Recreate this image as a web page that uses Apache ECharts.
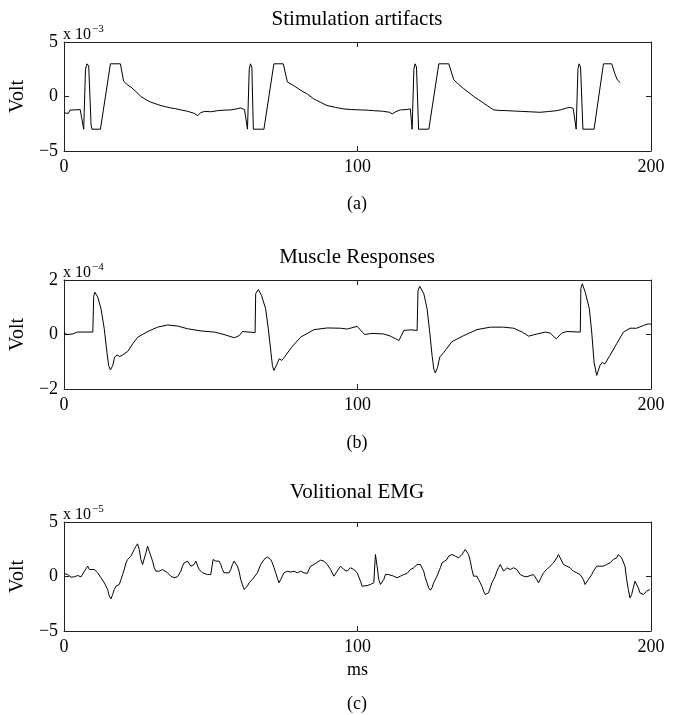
<!DOCTYPE html>
<html>
<head>
<meta charset="utf-8">
<script src="https://cdn.jsdelivr.net/npm/echarts@6/dist/echarts.min.js"></script>
<style>
html,body{margin:0;padding:0;background:#fff;}
#chart{width:674px;height:715px;}
</style>
</head>
<body>
<div id="chart"></div>
<script>
// ---------- Data (time in ms, values in axis units) ----------
const panelTitles = ['Stimulation artifacts', 'Muscle Responses', 'Volitional EMG'];
const panelLetters = ['(a)', '(b)', '(c)'];
const scaleExp = ['−3', '−4', '−5'];
const xTicks = [0, 100, 200];
const yLimits = [5, 2, 5];

// (a) Stimulation artifacts, x 10^-3 V
const tA = [0, 1.5, 2.0, 5.5, 6.0, 6.7, 7.3, 7.8, 8.4, 9.2, 9.5, 12.4, 15.8, 19.2, 20.3, 21.5, 22.8, 24.5, 26.2, 28.0, 29.6, 31.5, 33, 34.8, 36.4, 38.0, 39.8, 42.0, 44.3, 45.5, 46.5, 47.8, 50.0, 52.3, 54.5, 56.8, 58.5, 60.2, 61.5, 62.5, 63.1, 63.5, 64.0, 64.5, 68.1, 71.5, 74.7, 76.1, 78.5, 80.7, 83.0, 85.1, 87.5, 89.6, 92.5, 95.3, 98.0, 101, 103.2, 105.4, 108.5, 111.0, 111.8, 113.0, 114.6, 116.5, 118.0, 118.6, 119.2, 119.6, 120.1, 120.8, 124.3, 127.7, 131.1, 132.8, 134.5, 136.2, 138.0, 139.6, 141.3, 143, 144.8, 146.4, 148.5, 150.9, 153.0, 155.4, 158.5, 162.2, 165.0, 167.9, 169.5, 171.3, 172.5, 173.5, 174.5, 175.1, 175.5, 176.0, 176.8, 180.6, 183.8, 186.6, 187.8, 188.6, 189.5];
const vA = [-1.5, -1.55, -1.25, -1.2, -1.35, -3.0, 2.5, 3.0, 2.8, -2.6, -3.0, -3.0, 3.0, 3.0, 1.4, 1.1, 0.86, 0.45, 0.0, -0.3, -0.52, -0.7, -0.83, -0.95, -1.05, -1.12, -1.23, -1.35, -1.54, -1.76, -1.5, -1.36, -1.4, -1.3, -1.25, -1.23, -1.15, -1.05, -1.2, -3.0, 2.5, 3.0, 2.7, -3.0, -3.0, 3.0, 3.0, 1.33, 0.95, 0.56, 0.2, -0.22, -0.55, -0.83, -1.0, -1.14, -1.2, -1.23, -1.25, -1.3, -1.35, -1.45, -1.6, -1.4, -1.23, -1.2, -1.14, -3.0, 2.5, 3.0, 2.7, -3.0, -3.0, 3.0, 3.0, 1.54, 1.1, 0.71, 0.35, 0.0, -0.3, -0.62, -0.95, -1.23, -1.28, -1.3, -1.33, -1.36, -1.4, -1.45, -1.38, -1.3, -1.2, -1.05, -1.0, -1.1, -3.0, 2.5, 3.0, 2.7, -3.0, -3.0, 3.0, 3.0, 2.0, 1.5, 1.3];

// (b) Muscle responses, x 10^-4 V
const tB = [0, 1, 3, 4.5, 9.8, 10.1, 10.5, 11.5, 12.6, 13.7, 14.6, 15.2, 15.8, 16.6, 17.2, 18.1, 18.9, 20.0, 21.7, 23.4, 25.1, 28.5, 31.9, 35.3, 38.7, 42.1, 46.7, 51.2, 54.5, 58, 59.7, 60.8, 61.4, 65.1, 65.3, 66.2, 67.3, 68.7, 69.6, 70.5, 71.0, 71.5, 72.5, 73.3, 74.2, 75.3, 77.6, 80.6, 85.2, 89.7, 94.2, 96.5, 99.9, 101.6, 102.5, 104.9, 108.9, 111.2, 114.1, 115.8, 118.0, 120.3, 120.6, 121.2, 122.6, 123.7, 124.6, 125.4, 126.0, 126.5, 127.3, 128.0, 129.3, 132.2, 136.2, 140.7, 145.3, 149.8, 153.2, 156.1, 158.3, 161.2, 164.0, 165.7, 167.7, 169.6, 171.3, 175.9, 176.1, 176.6, 177.6, 179.0, 179.8, 180.6, 181.5, 182.6, 183.4, 184.3, 186.0, 188.3, 190.6, 192.9, 195.1, 197.4, 199.1, 200];
const vB = [0.05, 0.0, 0.02, 0.09, 0.09, 1.4, 1.55, 1.37, 0.94, 0.21, -0.65, -1.14, -1.3, -1.14, -0.83, -0.75, -0.81, -0.75, -0.62, -0.34, -0.1, 0.11, 0.27, 0.35, 0.31, 0.21, 0.13, 0.09, 0.0, -0.12, -0.04, 0.11, 0.07, 0.07, 1.5, 1.65, 1.43, 0.94, 0.21, -0.65, -1.14, -1.32, -1.1, -0.89, -0.95, -0.8, -0.46, -0.1, 0.18, 0.24, 0.23, 0.2, 0.3, 0.09, 0.0, 0.04, 0.02, -0.06, -0.22, 0.15, 0.17, 0.15, 1.6, 1.77, 1.49, 0.94, 0.09, -0.77, -1.28, -1.41, -1.2, -0.83, -0.67, -0.26, -0.04, 0.18, 0.27, 0.27, 0.23, 0.09, -0.06, 0.02, 0.09, 0.05, -0.16, 0.05, 0.11, 0.09, 1.7, 1.86, 1.55, 0.94, 0.09, -1.02, -1.5, -1.14, -1.02, -1.08, -0.77, -0.34, 0.09, 0.23, 0.23, 0.33, 0.39, 0.38];

// (c) Volitional EMG, x 10^-5 V
const tC = [0, 1.25, 2.38, 3.52, 4.65, 5.78, 6.92, 8.05, 8.62, 9.18, 10.32, 11.45, 12.59, 13.15, 13.72, 14.29, 14.85, 15.42, 15.99, 16.55, 17.12, 17.69, 18.25, 18.82, 19.39, 19.95, 20.52, 21.09, 21.66, 22.22, 22.79, 23.36, 23.92, 24.49, 25.06, 25.62, 26.19, 26.76, 27.32, 27.89, 28.46, 29.02, 29.59, 30.16, 30.73, 31.29, 31.86, 32.43, 32.99, 33.56, 34.13, 35.26, 36.39, 37.53, 38.66, 39.8, 40.36, 40.93, 41.5, 42.06, 42.63, 43.2, 44.33, 44.9, 45.46, 46.03, 46.6, 47.17, 47.73, 48.87, 50.0, 50.57, 50.79, 51.14, 51.7, 52.27, 52.84, 53.4, 53.97, 54.54, 55.1, 56.24, 56.8, 57.37, 57.94, 58.5, 59.07, 59.64, 60.2, 60.77, 61.34, 61.9, 62.47, 63.04, 63.61, 64.17, 64.74, 65.87, 67.01, 68.14, 69.27, 69.84, 70.41, 70.97, 71.54, 72.11, 72.67, 73.24, 73.81, 74.38, 74.94, 76.08, 77.21, 78.34, 79.48, 80.61, 81.75, 82.88, 83.45, 84.01, 85.15, 86.28, 87.41, 88.55, 89.68, 90.82, 91.95, 92.52, 93.08, 93.65, 94.2, 95.33, 96.47, 97.6, 98.74, 99.87, 101.0, 101.57, 102.14, 103.27, 104.4, 105.54, 106.1, 106.67, 107.24, 107.81, 108.37, 108.94, 109.51, 110.07, 110.64, 111.21, 112.34, 113.47, 114.61, 115.74, 116.88, 118.01, 119.14, 120.28, 120.84, 121.41, 121.98, 122.54, 123.11, 123.68, 124.25, 124.81, 125.38, 125.95, 127.08, 128.21, 128.78, 129.35, 130.48, 131.05, 131.61, 132.18, 132.75, 133.32, 133.88, 134.45, 135.02, 135.58, 136.15, 136.72, 137.28, 137.85, 138.42, 138.98, 139.55, 140.12, 140.69, 141.25, 141.82, 142.39, 142.95, 143.52, 144.09, 144.65, 145.22, 145.79, 146.35, 146.92, 147.49, 148.05, 148.62, 149.19, 149.76, 150.32, 150.89, 152.02, 153.16, 154.29, 155.42, 156.56, 157.69, 158.83, 159.96, 161.09, 161.66, 162.23, 162.79, 163.36, 164.49, 165.63, 166.76, 167.33, 167.89, 168.46, 169.03, 169.6, 170.16, 170.73, 171.3, 172.43, 173.56, 174.7, 175.83, 176.97, 177.53, 178.1, 178.67, 179.23, 179.8, 180.37, 180.93, 181.5, 182.07, 182.63, 183.77, 184.9, 186.04, 187.17, 188.3, 188.87, 189.44, 190.0, 190.57, 191.14, 191.71, 192.27, 192.84, 193.41, 193.97, 194.54, 195.11, 195.67, 196.24, 197.37, 198.51, 199.64];
const vC = [0.28, 0.18, -0.06, -0.03, 0.09, -0.03, 0.49, 0.95, 0.64, 0.8, 0.64, 0.34, -0.12, -0.28, -0.58, -0.73, -1.19, -1.8, -2.05, -1.65, -1.19, -0.89, -0.95, -0.73, -0.28, 0.18, 0.64, 1.25, 1.56, 1.71, 1.87, 2.17, 2.48, 2.78, 3.0, 2.48, 1.56, 1.1, 1.25, 2.17, 2.78, 2.32, 1.87, 1.41, 0.8, 0.49, 0.64, 0.49, 0.34, 0.64, 0.49, 0.34, 0.03, -0.12, -0.03, 0.49, 0.95, 1.25, 1.1, 1.41, 1.25, 0.95, 1.1, 1.41, 1.56, 0.64, 0.49, 0.34, 0.18, 0.18, 0.18, 0.18, 1.56, 1.56, 1.41, 1.25, 1.41, 1.1, 0.64, 0.34, 0.18, 0.34, 0.64, 1.1, 1.41, 1.25, 0.95, 0.49, -0.28, -0.73, -1.19, -1.04, -0.89, -0.58, -0.43, -0.28, -0.12, 0.34, 1.1, 1.56, 1.8, 1.71, 1.56, 1.25, 0.8, 0.34, -0.12, -0.58, -0.28, 0.03, 0.34, 0.49, 0.4, 0.49, 0.34, 0.49, 0.34, 0.28, 0.64, 0.95, 1.1, 1.31, 1.5, 1.41, 1.1, 0.64, 0.03, 0.18, 0.49, 0.34, 0.95, 0.64, 0.49, 0.8, 0.64, 0.34, -0.43, -0.89, -0.95, -0.83, -0.73, -0.58, 2.02, 0.95, -0.28, -0.73, -0.58, -0.28, 0.18, 0.28, 0.18, 0.34, 0.03, -0.12, 0.03, 0.18, 0.28, 0.64, 0.8, 1.1, 1.25, 1.1, 0.95, 0.49, -0.12, -0.58, -1.04, -1.25, -1.04, -0.58, 0.03, 0.8, 1.25, 1.41, 1.56, 1.87, 1.71, 2.02, 2.02, 1.87, 1.8, 1.71, 1.87, 2.02, 2.17, 2.48, 2.54, 2.02, 1.41, 0.64, 0.03, -0.12, 0.03, -0.28, -0.58, -0.89, -1.35, -1.65, -1.8, -1.5, -1.04, -0.58, -0.28, 0.03, 0.49, 0.8, 1.1, 0.8, 0.49, 0.64, 0.8, 0.64, 0.8, 0.64, 0.18, 0.03, -0.03, 0.09, 0.18, -0.28, -0.58, -0.28, 0.03, 0.34, 0.64, 0.95, 1.25, 1.41, 1.71, 2.02, 1.87, 1.41, 1.1, 1.25, 0.95, 0.8, 0.49, 0.34, 0.18, -0.28, -0.73, -0.58, -0.28, -0.12, 0.18, 0.49, 0.64, 0.95, 1.1, 0.95, 0.95, 1.1, 1.25, 1.56, 1.71, 2.02, 2.17, 1.71, 1.56, 0.95, -0.28, -1.19, -1.96, -1.65, -1.04, -0.43, -0.58, -1.04, -1.5, -1.65, -1.35, -1.19];

const seriesT = [tA, tB, tC];
const seriesV = [vA, vB, vC];

// ---------- Layout ----------
const FONT = '"Liberation Serif", "Times New Roman", serif';
const gridTops = [42, 280, 522];
const gridH = 109;
const gridLeft = 63, gridRight = 23;
const plotCenter = gridLeft + (674 - gridLeft - gridRight) / 2;
const titleTops = [9, 247, 482];
const letterTops = [195, 434, 695];

const grids = [], xAxes = [], yAxes = [], series = [], titles = [];
const minus = v => String(v).replace('-', '−');

for (let i = 0; i < 3; i++) {
  grids.push({ left: gridLeft, right: gridRight, top: gridTops[i], height: gridH, containLabel: false });
  const lim = yLimits[i];
  const common = {
    gridIndex: i, type: 'value',
    axisLine: { show: true, onZero: false, lineStyle: { color: '#222', width: 1 } },
    axisTick: { show: true, inside: true, length: 5, lineStyle: { color: '#222' } },
    splitLine: { show: false }
  };
  xAxes.push(Object.assign({}, common, {
    position: 'bottom', min: xTicks[0], max: xTicks[2], interval: xTicks[1] - xTicks[0],
    axisLabel: { show: true, margin: 7, color: '#000', fontFamily: FONT, fontSize: 18 },
    name: i === 2 ? 'ms' : '', nameLocation: 'middle', nameGap: 30,
    nameTextStyle: { color: '#000', fontFamily: FONT, fontSize: 18 }
  }));
  xAxes.push(Object.assign({}, common, {
    position: 'top', min: xTicks[0], max: xTicks[2], interval: xTicks[1] - xTicks[0],
    axisLabel: { show: false }
  }));
  yAxes.push(Object.assign({}, common, {
    position: 'left', min: -lim, max: lim, interval: lim,
    axisLabel: { show: true, margin: 6, color: '#000', fontFamily: FONT, fontSize: 18, formatter: minus },
    name: 'Volt', nameLocation: 'middle', nameGap: 28, nameRotate: 90,
    nameTextStyle: { color: '#000', fontFamily: FONT, fontSize: 20 }
  }));
  yAxes.push(Object.assign({}, common, {
    position: 'right', min: -lim, max: lim, interval: lim,
    axisLabel: { show: false }
  }));
  const data = seriesT[i].map((t, k) => [t, seriesV[i][k]]);
  series.push({
    type: 'line', xAxisIndex: 2 * i, yAxisIndex: 2 * i, data: data,
    showSymbol: false, symbol: 'none', smooth: false,
    lineStyle: { color: '#000', width: 1 }, silent: true
  });
  titles.push({
    text: panelTitles[i], left: plotCenter, top: titleTops[i], textAlign: 'center', padding: 0,
    textStyle: { fontFamily: FONT, fontSize: 21, fontWeight: 'normal', color: '#000' }
  });
  titles.push({
    text: 'x 10{sup|' + scaleExp[i] + '}', left: gridLeft, top: gridTops[i] - 18, padding: 0,
    textStyle: {
      fontFamily: FONT, fontSize: 16, fontWeight: 'normal', color: '#000',
      rich: { sup: { fontFamily: FONT, fontSize: 11, color: '#000', verticalAlign: 'top', padding: [0, 0, 10, 1] } }
    }
  });
  titles.push({
    text: panelLetters[i], left: plotCenter, top: letterTops[i], textAlign: 'center', padding: 0,
    textStyle: { fontFamily: FONT, fontSize: 18, fontWeight: 'normal', color: '#000' }
  });
}

const chart = echarts.init(document.getElementById('chart'), null, { renderer: 'canvas' });
chart.setOption({
  animation: false,
  backgroundColor: '#fff',
  title: titles,
  grid: grids,
  xAxis: xAxes,
  yAxis: yAxes,
  series: series
});
</script>
</body>
</html>
